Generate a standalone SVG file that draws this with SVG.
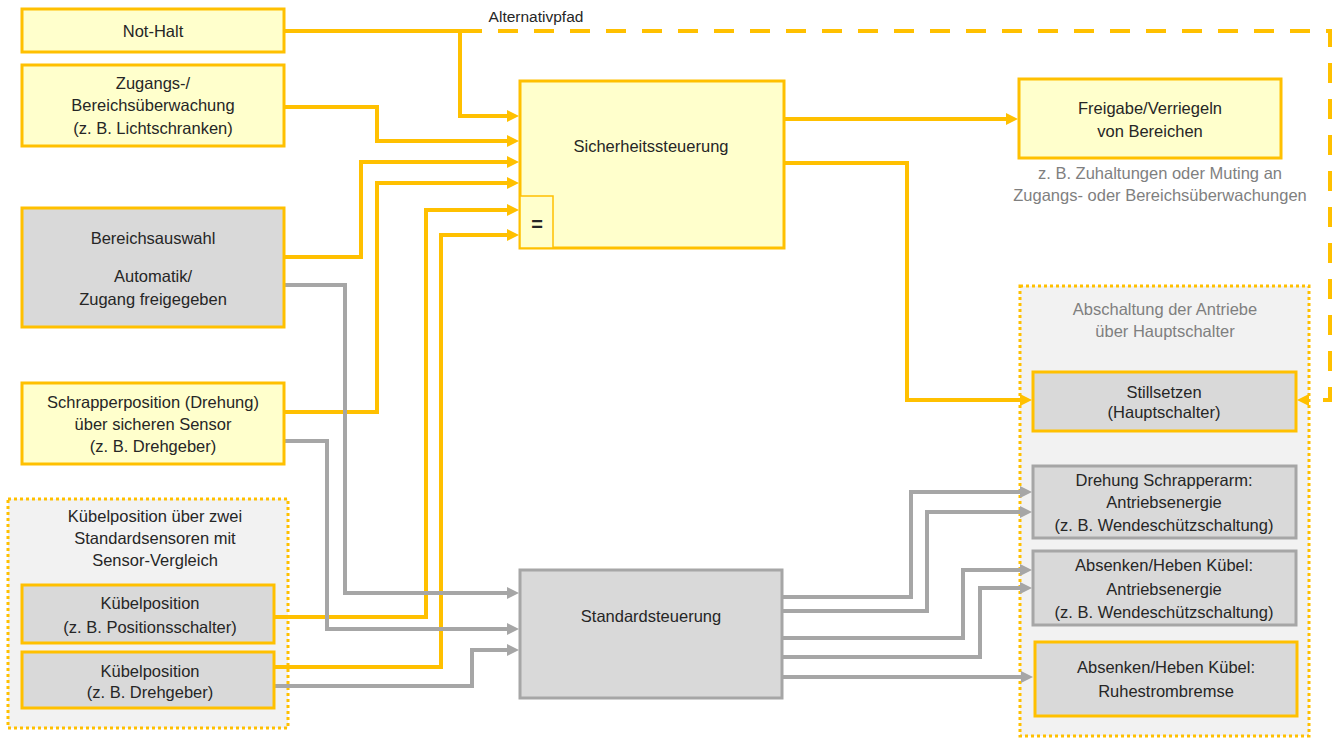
<svg xmlns="http://www.w3.org/2000/svg" width="1333" height="738" viewBox="0 0 1333 738">
<style>
text{font-family:"Liberation Sans",Arial,sans-serif;font-size:16.5px;fill:#262626;text-anchor:middle}
.note{fill:#7F7F7F}
.by{fill:#FFFFCC;stroke:#FFC000;stroke-width:3}
.gy{fill:#D9D9D9;stroke:#FFC000;stroke-width:3}
.gg{fill:#D9D9D9;stroke:#A6A6A6;stroke-width:3}
.grp{fill:#F2F2F2;stroke:#FFC000;stroke-width:3;stroke-dasharray:3 3}
.cy{fill:none;stroke:#FFC000;stroke-width:4;marker-end:url(#ay)}
.cg{fill:none;stroke:#A6A6A6;stroke-width:4;marker-end:url(#ag)}
.cd{fill:none;stroke:#FFC000;stroke-width:4;stroke-dasharray:20 16;marker-end:url(#ay)}
</style>
<defs>
<marker id="ay" viewBox="0 0 12 12" refX="5" refY="6" markerWidth="12" markerHeight="12" markerUnits="userSpaceOnUse" orient="auto"><path d="M0,0 L12,6 L0,12 z" fill="#FFC000"/></marker>
<marker id="ag" viewBox="0 0 12 12" refX="5" refY="6" markerWidth="12" markerHeight="12" markerUnits="userSpaceOnUse" orient="auto"><path d="M0,0 L12,6 L0,12 z" fill="#A6A6A6"/></marker>
</defs>
<rect width="1333" height="738" fill="#FFFFFF"/>

<g id="grp-kuebel">
<rect class="grp" x="8" y="499" width="280" height="229"/>
<text x="155" y="522">Kübelposition über zwei</text>
<text x="155" y="544">Standardsensoren mit</text>
<text x="155" y="566">Sensor-Vergleich</text>
</g>
<g id="grp-abschaltung">
<rect class="grp" x="1020" y="286" width="289" height="450"/>
<text class="note" x="1165" y="315">Abschaltung der Antriebe</text>
<text class="note" x="1165" y="337">über Hauptschalter</text>
</g>

<g id="connectors">
<path class="cy" d="M284,31 H460 V116 H512"/>
<path class="cy" d="M284,107 H377 V141 H512"/>
<path class="cy" d="M284,257 H361 V162 H512"/>
<path class="cy" d="M284,412 H377 V183 H512"/>
<path class="cy" d="M274,617 H426 V210 H512"/>
<path class="cy" d="M274,667 H441 V235 H512"/>
<path class="cg" d="M284,285 H345 V593 H512"/>
<path class="cg" d="M284,441 H327 V629 H512"/>
<path class="cg" d="M274,686 H472 V650 H512"/>
<path class="cy" d="M784,119 H1011"/>
<path class="cy" d="M784,163 H907 V400 H1025"/>
<path class="cd" d="M462,31 H1330 V400 H1304"/>
<path class="cg" d="M782,597 H911 V492 H1025"/>
<path class="cg" d="M782,611 H927 V512 H1025"/>
<path class="cg" d="M782,638 H963 V570 H1025"/>
<path class="cg" d="M782,657 H980 V588 H1025"/>
<path class="cg" d="M782,677 H1026"/>
<text x="536" y="22" style="font-size:15.5px">Alternativpfad</text>
</g>

<g id="n-nothalt">
<rect class="by" x="22" y="9" width="262" height="43"/>
<text x="153" y="37">Not-Halt</text>
</g>
<g id="n-zugang">
<rect class="by" x="22" y="65" width="262" height="81"/>
<text x="153" y="89">Zugangs-/</text>
<text x="153" y="111">Bereichsüberwachung</text>
<text x="153" y="134">(z. B. Lichtschranken)</text>
</g>
<g id="n-bereich">
<rect class="gy" x="22" y="208" width="262" height="119"/>
<text x="153" y="244">Bereichsauswahl</text>
<text x="153" y="282">Automatik/</text>
<text x="153" y="305">Zugang freigegeben</text>
</g>
<g id="n-schrapper">
<rect class="by" x="22" y="383" width="262" height="81"/>
<text x="153" y="408">Schrapperposition (Drehung)</text>
<text x="153" y="430">über sicheren Sensor</text>
<text x="153" y="452">(z. B. Drehgeber)</text>
</g>
<g id="n-kuebel1">
<rect class="gy" x="22" y="585" width="252" height="58"/>
<text x="150" y="609">Kübelposition</text>
<text x="150" y="633">(z. B. Positionsschalter)</text>
</g>
<g id="n-kuebel2">
<rect class="gy" x="22" y="652" width="252" height="56"/>
<text x="150" y="677">Kübelposition</text>
<text x="150" y="698">(z. B. Drehgeber)</text>
</g>
<g id="n-sicherheit">
<rect class="by" x="520" y="81" width="264" height="167"/>
<text x="651" y="152">Sicherheitssteuerung</text>
<rect x="520" y="196" width="33" height="52" fill="#FFFFCC" stroke="#FFC000" stroke-width="1.5"/>
<text x="537" y="231" style="font-size:20px;font-weight:bold">=</text>
</g>
<g id="n-standard">
<rect class="gg" x="520" y="570" width="262" height="128"/>
<text x="651" y="622">Standardsteuerung</text>
</g>
<g id="n-freigabe">
<rect class="by" x="1019" y="79" width="262" height="79"/>
<text x="1150" y="114">Freigabe/Verriegeln</text>
<text x="1150" y="137">von Bereichen</text>
<text class="note" x="1160" y="179">z. B. Zuhaltungen oder Muting an</text>
<text class="note" x="1160" y="201">Zugangs- oder Bereichsüberwachungen</text>
</g>
<g id="n-stillsetzen">
<rect class="gy" x="1033" y="372" width="263" height="59"/>
<text x="1164" y="398">Stillsetzen</text>
<text x="1164" y="418">(Hauptschalter)</text>
</g>
<g id="n-drehung">
<rect class="gg" x="1033" y="466" width="263" height="72"/>
<text x="1164" y="486">Drehung Schrapperarm:</text>
<text x="1164" y="508">Antriebsenergie</text>
<text x="1164" y="531">(z. B. Wendeschützschaltung)</text>
</g>
<g id="n-absenken1">
<rect class="gg" x="1033" y="551" width="263" height="74"/>
<text x="1164" y="571">Absenken/Heben Kübel:</text>
<text x="1164" y="595">Antriebsenergie</text>
<text x="1164" y="618">(z. B. Wendeschützschaltung)</text>
</g>
<g id="n-absenken2">
<rect class="gy" x="1035" y="642" width="262" height="74"/>
<text x="1166" y="673">Absenken/Heben Kübel:</text>
<text x="1166" y="697">Ruhestrombremse</text>
</g>
</svg>
